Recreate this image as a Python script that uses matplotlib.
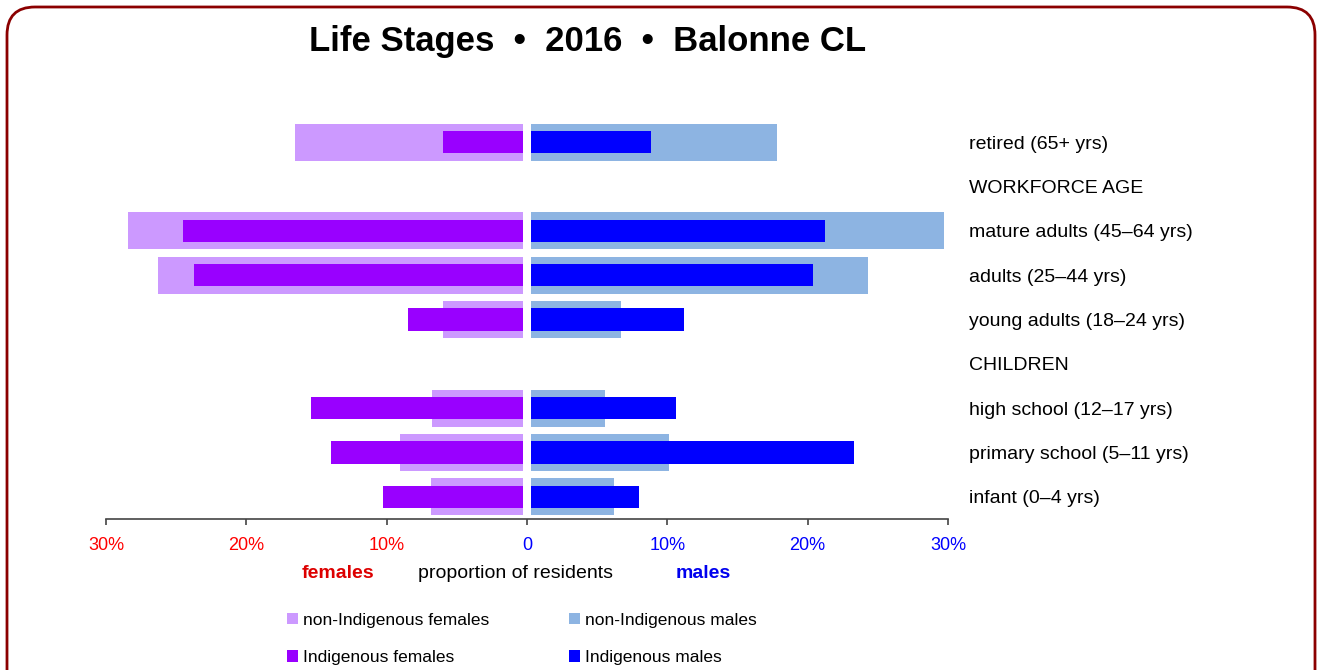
import numpy as np
import matplotlib
matplotlib.use('Agg')
import matplotlib.pyplot as plt
from matplotlib.patches import FancyBboxPatch
from matplotlib.transforms import IdentityTransform

plt.rcParams['font.family'] = ['Liberation Sans', 'DejaVu Sans']

# rows from top to bottom; header rows carry no bars
rows = ['retired (65+ yrs)', 'WORKFORCE AGE', 'mature adults (45–64 yrs)',
        'adults (25–44 yrs)', 'young adults (18–24 yrs)', 'CHILDREN',
        'high school (12–17 yrs)', 'primary school (5–11 yrs)', 'infant (0–4 yrs)']
nonind_f = [16.5, np.nan, 28.4, 26.3, 6.0, np.nan, 6.75, 9.05, 6.85]
ind_f    = [6.0, np.nan, 24.5, 23.7, 8.5, np.nan, 15.4, 13.95, 10.25]
nonind_m = [17.8, np.nan, 29.75, 24.3, 6.7, np.nan, 5.55, 10.15, 6.2]
ind_m    = [8.85, np.nan, 21.25, 20.35, 11.2, np.nan, 10.6, 23.3, 7.95]

xticks = [-30, -20, -10, 0, 10, 20, 30]
xticklabels = ['30%', '20%', '10%', '0', '10%', '20%', '30%']

c_nf, c_f = '#cc99ff', '#9900ff'
c_nm, c_m = '#8db4e2', '#0000ff'

fig = plt.figure(figsize=(13.2, 6.7), dpi=100)
ax = fig.add_axes([106/1320, 1-519/670, 842/1320, 399/670])

y = np.arange(len(rows))[::-1]
h1 = ax.barh(y, -np.array(nonind_f), height=0.83, color=c_nf, label='non-Indigenous females', zorder=2)
h2 = ax.barh(y, -np.array(ind_f), height=0.5, color=c_f, label='Indigenous females', zorder=2)
h3 = ax.barh(y, nonind_m, height=0.83, color=c_nm, label='non-Indigenous males', zorder=2)
h4 = ax.barh(y, ind_m, height=0.5, color=c_m, label='Indigenous males', zorder=2)

# white gap between the two halves
ax.axvspan(-0.28, 0.28, color='white', zorder=2.2, lw=0)

ax.set_xlim(-30, 30)
ax.set_ylim(-0.5, len(rows)-0.5)
for s in ['top', 'left', 'right']:
    ax.spines[s].set_visible(False)
ax.spines['bottom'].set_color('#444444')
ax.spines['bottom'].set_linewidth(1.2)

ax.set_xticks(xticks)
ax.set_xticklabels(xticklabels, fontsize=13)
ax.tick_params(axis='x', length=4, width=1.2, color='#444444', pad=9)
for lab, v in zip(ax.get_xticklabels(), xticks):
    lab.set_color('#ff0000' if v < 0 else '#0000ff')

ax.yaxis.tick_right()
ax.set_yticks(y)
ax.set_yticklabels(rows, fontsize=14)
ax.tick_params(axis='y', length=0, pad=15)

fig.text(588/1320, 1-41/670, 'Life Stages  •  2016  •  Balonne CL',
         fontsize=25, fontweight='bold', ha='center', va='center')

fig.text(338/1320, 1-574/670, 'females', color='#dd0000', fontsize=14,
         fontweight='bold', ha='center', va='center')
fig.text(516/1320, 1-574/670, 'proportion of residents', color='black',
         fontsize=14, ha='center', va='center')
fig.text(703/1320, 1-574/670, 'males', color='#0000ee', fontsize=14,
         fontweight='bold', ha='center', va='center')

fig.legend(handles=[h1, h2, h3, h4], ncol=2, loc='upper left',
           bbox_to_anchor=(278/1320, 1-604/670), frameon=False, fontsize=12.5,
           handlelength=0.63, handleheight=0.63, handletextpad=0.3,
           columnspacing=4.6, labelspacing=1.3, borderpad=0)

border = FancyBboxPatch((7, -30), 1308, 693, boxstyle='round,pad=0,rounding_size=28',
                        transform=IdentityTransform(), fill=False,
                        edgecolor='#8b0000', linewidth=2)
fig.patches.append(border)

fig.savefig('out.png', dpi=100)
